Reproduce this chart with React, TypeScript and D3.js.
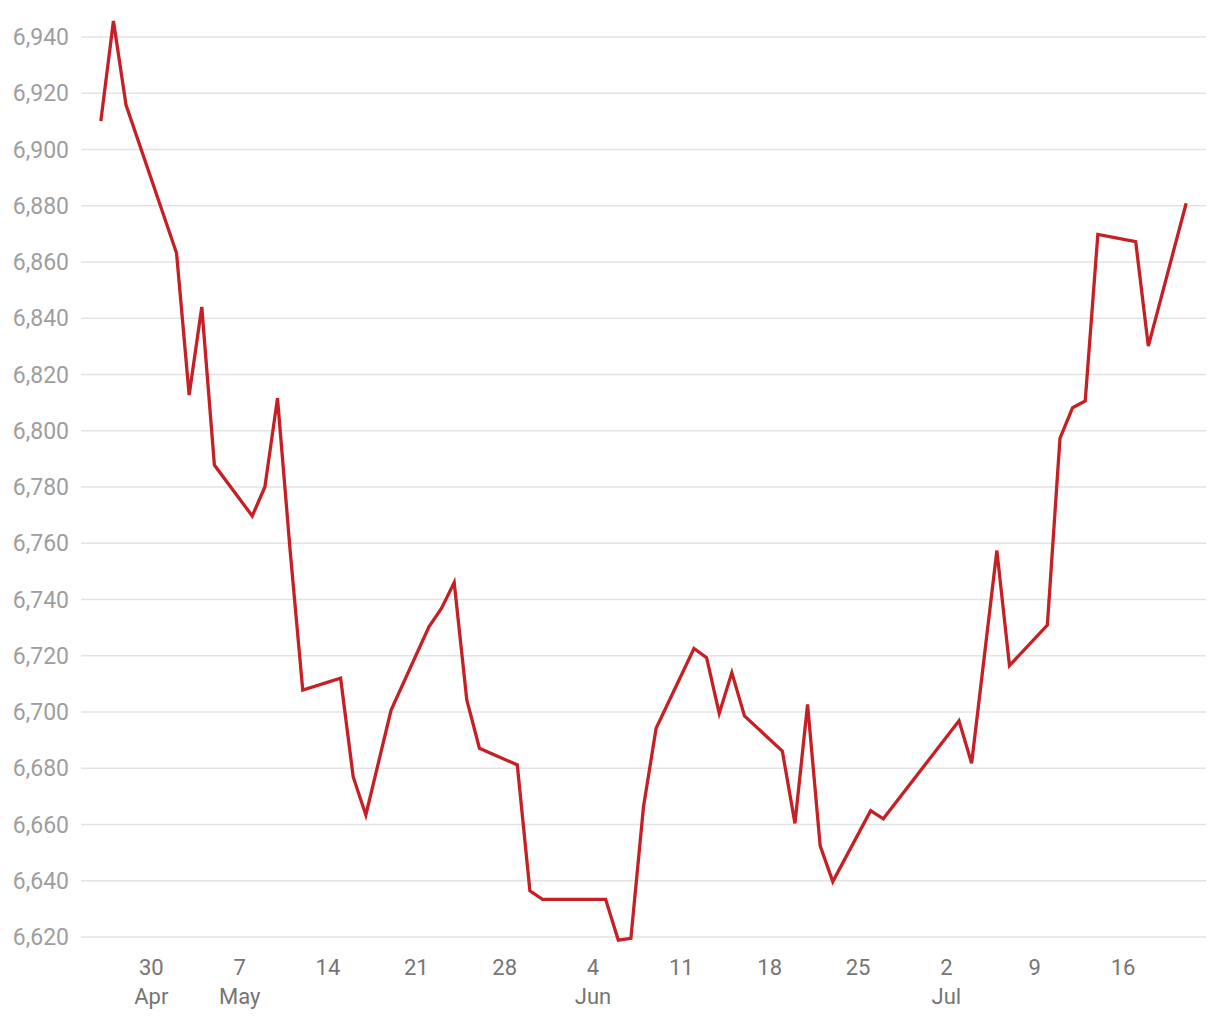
import React from "react";
import * as d3 from "d3";

const dates: string[] = [
  "2018-04-26", "2018-04-27", "2018-04-28", "2018-05-02", "2018-05-03", "2018-05-04",
  "2018-05-05", "2018-05-08", "2018-05-09", "2018-05-10", "2018-05-11", "2018-05-12",
  "2018-05-15", "2018-05-16", "2018-05-17", "2018-05-19", "2018-05-22", "2018-05-23",
  "2018-05-24", "2018-05-25", "2018-05-26", "2018-05-29", "2018-05-30", "2018-05-31",
  "2018-06-05", "2018-06-06", "2018-06-07", "2018-06-08", "2018-06-09", "2018-06-12",
  "2018-06-13", "2018-06-14", "2018-06-15", "2018-06-16", "2018-06-19", "2018-06-20",
  "2018-06-21", "2018-06-22", "2018-06-23", "2018-06-26", "2018-06-27", "2018-07-03",
  "2018-07-04", "2018-07-06", "2018-07-07", "2018-07-10", "2018-07-11", "2018-07-12",
  "2018-07-13", "2018-07-14", "2018-07-17", "2018-07-18", "2018-07-21",
];

const values: number[] = [
  6910.1, 6945.7, 6915.8, 6863.2, 6812.7, 6844.0,
  6787.8, 6769.7, 6780.0, 6811.6, 6757.5, 6707.8,
  6712.0, 6676.9, 6663.4, 6700.7, 6730.3, 6736.9,
  6746.0, 6704.3, 6687.1, 6681.2, 6636.4, 6633.4,
  6633.4, 6618.9, 6619.5, 6666.3, 6694.2, 6722.6,
  6719.3, 6699.5, 6714.0, 6698.6, 6686.1, 6660.4,
  6702.7, 6652.4, 6639.7, 6664.9, 6662.0, 6696.9,
  6681.8, 6757.4, 6716.5, 6730.9, 6797.3, 6808.2,
  6810.6, 6869.8, 6867.2, 6830.1, 6880.9,
];

const yTicks: number[] = [6620, 6640, 6660, 6680, 6700, 6720, 6740, 6760, 6780, 6800, 6820, 6840, 6860, 6880, 6900, 6920, 6940];

const xTickDates: string[] = [
  "2018-04-30", "2018-05-07", "2018-05-14", "2018-05-21", "2018-05-28", "2018-06-04",
  "2018-06-11", "2018-06-18", "2018-06-25", "2018-07-02", "2018-07-09", "2018-07-16",
];
const xTickMonths: string[] = ["Apr", "May", "", "", "", "Jun", "", "", "", "Jul", "", ""];

const W = 1220;
const H = 1020;
const left = 81;
const right = 1206;
const top = 37;
const bottom = 937;
const DAY = 86400000;
const PAD_DAYS = 1.57;

export default function App() {
  const parse = d3.utcParse("%Y-%m-%d");
  const pts = dates.map((d, i) => ({ date: parse(d) as Date, value: values[i] }));
  const ext = d3.extent(pts, (p) => p.date) as [Date, Date];
  const x = d3
    .scaleUtc()
    .domain([new Date(+ext[0] - PAD_DAYS * DAY), new Date(+ext[1] + PAD_DAYS * DAY)])
    .range([left, right]);
  const y = d3.scaleLinear().domain([6620, 6940]).range([bottom, top]);
  const fmt = d3.format(",");
  const line = d3
    .line<{ date: Date; value: number }>()
    .x((p) => x(p.date))
    .y((p) => y(p.value));

  return (
    <svg
      width={W}
      height={H}
      style={{ position: "absolute", left: 0, top: 0, fontFamily: "Roboto, sans-serif" }}
    >
      <rect width={W} height={H} fill="#fff" />
      {yTicks.map((t) => (
        <g key={t}>
          <line x1={left} x2={right} y1={y(t)} y2={y(t)} stroke="#e3e3e3" strokeWidth={1.5} />
          <text x={69} y={y(t)} dy="0.35em" textAnchor="end" fontSize={23} fill="#9e9e9e">
            {fmt(t)}
          </text>
        </g>
      ))}
      {xTickDates.map((d, i) => {
        const dt = parse(d) as Date;
        const xx = x(dt);
        return (
          <g key={d}>
            <text x={xx} y={975} textAnchor="middle" fontSize={22} fill="#757575">
              {dt.getUTCDate()}
            </text>
            {xTickMonths[i] && (
              <text x={xx} y={1004} textAnchor="middle" fontSize={22} fill="#757575">
                {xTickMonths[i]}
              </text>
            )}
          </g>
        );
      })}
      <path
        d={line(pts) || ""}
        fill="none"
        stroke="#c62026"
        strokeWidth={3.3}
        strokeLinejoin="miter"
      />
    </svg>
  );
}
